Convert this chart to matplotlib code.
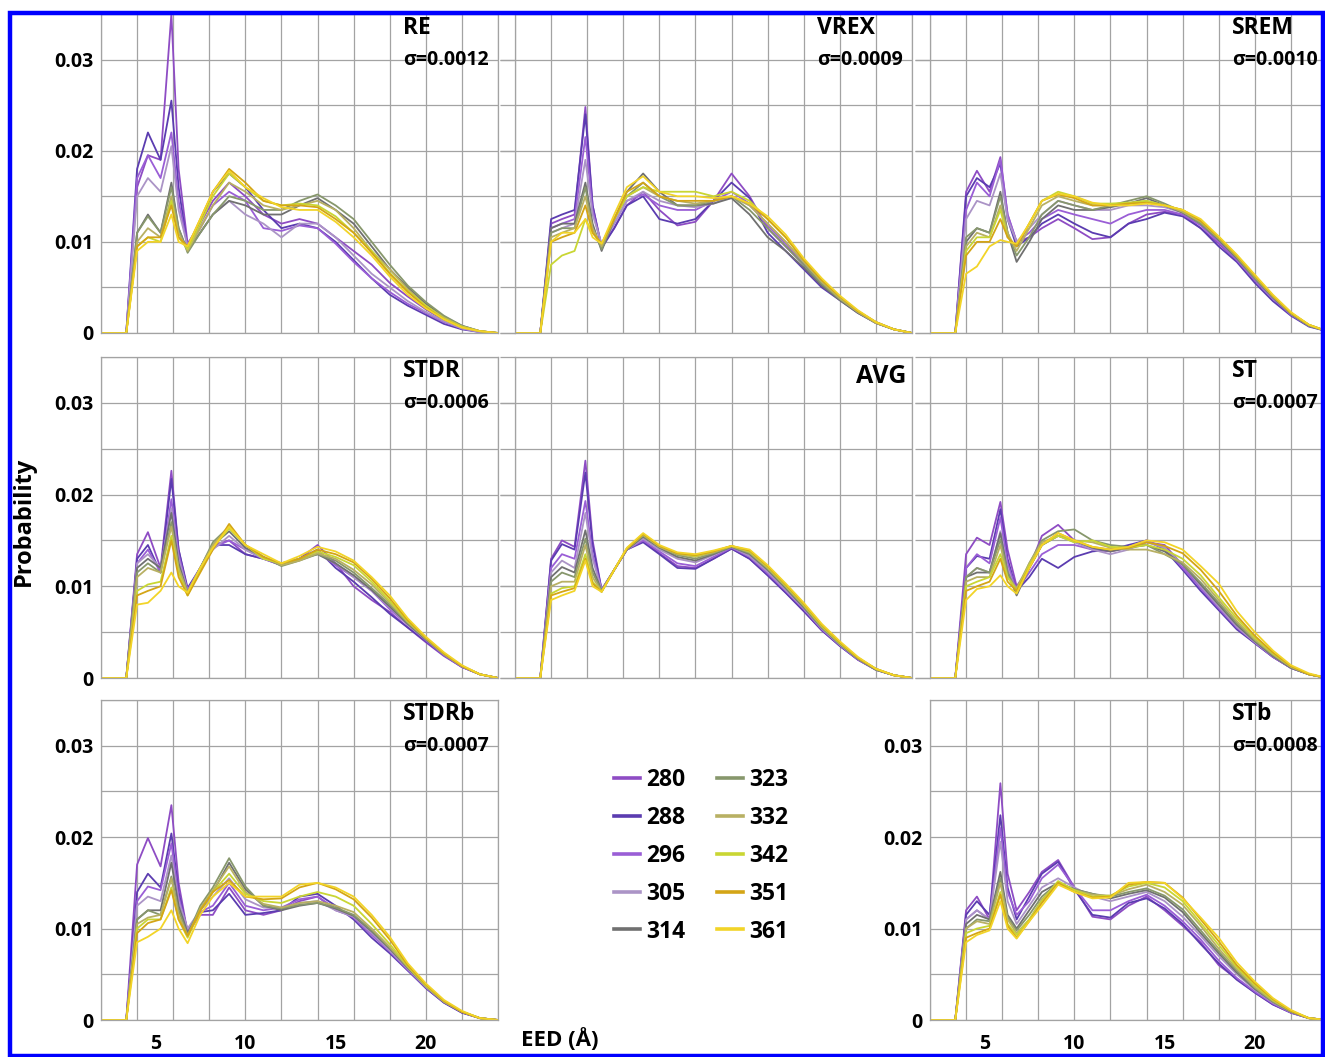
import numpy as np
import matplotlib.pyplot as plt
from matplotlib.patches import Rectangle
from matplotlib.lines import Line2D

plt.rcParams['font.family'] = ['Open Sans', 'DejaVu Sans']

temps = ['280', '288', '296', '305', '314', '323', '332', '342', '351', '361']
colors = ['#8e4cc4', '#5b3cb0', '#9a5ed6', '#ab94c6', '#707070',
          '#87976c', '#b8b063', '#c9d633', '#d4a516', '#f2d428']

# end-to-end distance grid (Angstrom)
eed = [2, 3.4, 4.0, 4.6, 5.3, 5.9, 6.3, 6.8, 7.5, 8.2, 9.1, 10, 11, 12, 13,
       14, 15, 16, 17, 18, 19, 20, 21, 22, 23, 24]

# probabilities in units of 1e-3, one row per temperature (280 ... 361)
re = [
    [0, 0, 16, 19.5, 19, 35, 18, 9.8, 12, 14.5, 16.5, 15, 13, 12, 12.5, 12, 10.5, 9, 7.5, 5.5, 4, 2.6, 1.4, 0.6, 0.2, 0],
    [0, 0, 18, 22, 19, 25.5, 16, 9.3, 12, 15.5, 17.5, 16, 13.5, 11.5, 12, 11.5, 10, 8, 6, 4.2, 3, 2, 1, 0.4, 0.1, 0],
    [0, 0, 17, 19.5, 17, 22, 14.5, 9.5, 11.5, 14, 15.5, 14.5, 11.5, 11.2, 11.8, 11.5, 9.8, 7.8, 6, 4.5, 3.2, 2.2, 1.2, 0.5, 0.1, 0],
    [0, 0, 15, 17, 15.5, 20.5, 13.5, 9.5, 11, 13, 14.5, 13, 12, 10.5, 12, 12, 10.5, 8.5, 6.5, 5, 3.5, 2.3, 1.3, 0.5, 0.1, 0],
    [0, 0, 11, 13, 11, 16.5, 11.5, 9, 11, 13, 14.5, 14, 13, 13, 14, 14.8, 13.5, 12, 9.5, 7, 5, 3.2, 1.8, 0.8, 0.2, 0],
    [0, 0, 11, 12.8, 11, 16, 11.5, 8.8, 11, 13, 15, 14.5, 13.5, 13.5, 14.5, 15.2, 14, 12.5, 10, 7.5, 5.2, 3.4, 1.9, 0.8, 0.2, 0],
    [0, 0, 10, 11.5, 10.5, 15, 11, 9, 11.5, 14, 16.5, 15.5, 14, 13.5, 14, 14.5, 13.5, 11.5, 9, 7, 4.8, 3, 1.7, 0.7, 0.2, 0],
    [0, 0, 9.5, 10.5, 10, 14.5, 10.5, 9.2, 12, 15, 17.5, 16, 14.5, 14, 14.2, 14, 12.8, 11, 9, 6.6, 4.6, 3, 1.6, 0.7, 0.2, 0],
    [0, 0, 9.5, 10.5, 10.5, 14, 10.5, 9.5, 12.5, 15.5, 18, 16.5, 14.5, 14, 14, 13.8, 12.5, 11, 8.8, 6.5, 4.5, 2.8, 1.5, 0.6, 0.2, 0],
    [0, 0, 9, 10, 10, 13, 10, 9.5, 12.5, 15.5, 17.8, 16, 14.8, 13.8, 13.5, 13.5, 12.2, 10.5, 8.5, 6.2, 4.2, 2.7, 1.5, 0.6, 0.2, 0],
]

vrex = [
    [0, 0, 12, 12.5, 13, 24.8, 14, 9.5, 11.5, 14, 15.5, 13.5, 11.8, 12.2, 14.5, 17.5, 15, 11.5, 9.5, 7.5, 5.5, 3.8, 2.4, 1.2, 0.4, 0],
    [0, 0, 12.5, 13, 13.5, 24, 14, 9.3, 11.5, 14, 15, 12.5, 12, 12.5, 14.5, 16.5, 14.8, 11, 9, 7, 5, 3.6, 2.2, 1.1, 0.4, 0],
    [0, 0, 11.5, 12, 12.5, 21.5, 13.5, 9.5, 12, 14.5, 15.2, 14, 13.5, 13.5, 14.5, 15.5, 14.2, 11.8, 9.8, 7.6, 5.4, 3.8, 2.3, 1.1, 0.4, 0],
    [0, 0, 11, 11.5, 12, 19, 13, 9.8, 12, 14.5, 15.5, 14.5, 14, 13.8, 14.2, 15, 14, 12, 10, 7.8, 5.5, 3.8, 2.3, 1.1, 0.4, 0],
    [0, 0, 11.5, 12, 12, 16.5, 12, 9, 12.5, 15.5, 17.5, 15.5, 14, 14, 14.2, 14.8, 13, 10.5, 9, 7.2, 5.2, 3.6, 2.2, 1.1, 0.4, 0],
    [0, 0, 11, 11.5, 11.5, 16, 11.5, 9.2, 12.5, 15, 16.5, 15, 14, 14, 14.5, 15, 13.5, 11.5, 9.5, 7.5, 5.4, 3.7, 2.3, 1.1, 0.4, 0],
    [0, 0, 10.5, 11, 11.5, 15, 11.5, 9.5, 12.5, 15, 16, 15, 14.5, 14.2, 14.5, 15, 14, 12, 10, 7.8, 5.6, 3.8, 2.3, 1.1, 0.4, 0],
    [0, 0, 7.5, 8.5, 9, 12.5, 11, 9.8, 12.5, 15, 16, 15.5, 15.5, 15.5, 15, 15.5, 14.5, 12.5, 10.5, 8, 5.8, 4, 2.4, 1.2, 0.4, 0],
    [0, 0, 10, 10.5, 11, 14, 11, 9.8, 12.5, 15.5, 16.5, 15, 14.5, 14.5, 14.5, 15, 14.2, 12.5, 10.5, 8, 5.8, 4, 2.4, 1.2, 0.4, 0],
    [0, 0, 10, 11, 11, 12.5, 10.5, 9.8, 13, 16, 17.2, 15.5, 15, 15, 14.8, 15, 14.2, 12.8, 10.8, 8.2, 6, 4.1, 2.5, 1.2, 0.4, 0],
]

srem = [
    [0, 0, 15.5, 17.8, 15.5, 19.3, 13, 10, 10.5, 11.5, 12.5, 11.5, 10.3, 10.5, 12, 13, 13.3, 13, 11.5, 9.8, 8, 5.8, 3.8, 2, 0.8, 0.2],
    [0, 0, 15, 17, 16, 18.6, 12.5, 9.5, 10.5, 12, 13, 12, 11, 10.5, 12, 12.5, 13.2, 12.8, 11.5, 9.5, 7.8, 5.5, 3.5, 1.9, 0.7, 0.2],
    [0, 0, 13.5, 16.5, 15, 19, 13, 10, 11, 12.5, 13.5, 13, 12.5, 12, 13, 13.5, 13.5, 13, 11.8, 10, 8, 5.8, 3.8, 2, 0.8, 0.2],
    [0, 0, 12.5, 14.5, 14, 17.5, 12.5, 10, 11.5, 13, 14.5, 14, 13.5, 13.5, 14, 14, 13.8, 13.2, 12, 10.2, 8.2, 6, 3.9, 2.1, 0.8, 0.2],
    [0, 0, 10, 11.5, 11, 15.5, 11, 7.8, 10, 12.5, 14, 13.5, 13.5, 13.8, 14.2, 14.8, 14, 13.2, 12, 10.2, 8.2, 6, 3.9, 2.1, 0.8, 0.2],
    [0, 0, 10.5, 11.5, 11, 15, 11, 8.5, 10.5, 13, 14.5, 14, 13.5, 14, 14.5, 15, 14.2, 13.3, 12, 10.3, 8.3, 6, 4, 2.1, 0.8, 0.2],
    [0, 0, 9.5, 11, 10.5, 14, 11, 9, 11.5, 14, 15, 14.5, 14, 14, 14.2, 14.5, 14, 13.3, 12.2, 10.4, 8.4, 6.2, 4, 2.2, 0.9, 0.2],
    [0, 0, 9, 10.5, 10.5, 13.5, 10.5, 9.5, 12, 14.5, 15.5, 15, 14.2, 14.2, 14.3, 14.5, 14, 13.5, 12.3, 10.5, 8.5, 6.3, 4.1, 2.2, 0.9, 0.2],
    [0, 0, 8.5, 10, 10, 12.5, 10.5, 9.5, 12, 14.5, 15.2, 14.8, 14, 14, 14.2, 14.3, 14, 13.5, 12.3, 10.5, 8.5, 6.3, 4.1, 2.2, 0.9, 0.2],
    [0, 0, 6.5, 7.3, 9.5, 10.2, 10, 9.8, 12, 14.5, 15.3, 15, 14.3, 14, 14, 14.2, 14, 13.5, 12.5, 10.6, 8.6, 6.4, 4.2, 2.3, 0.9, 0.2],
]

stdr = [
    [0, 0, 13.5, 15.9, 12, 22.6, 14, 9.5, 12, 14.5, 15, 13.5, 13, 12.5, 13, 14.5, 12.5, 10, 8.5, 7.2, 5.5, 3.9, 2.4, 1.2, 0.4, 0],
    [0, 0, 13, 14.5, 11.5, 21.7, 14, 9.8, 12, 14.5, 14.5, 13.5, 13, 12.3, 13, 14, 12, 10.5, 8.8, 7, 5.5, 4, 2.5, 1.2, 0.4, 0],
    [0, 0, 12.5, 14, 11.5, 19.5, 13.5, 9.5, 12, 14.2, 15, 14, 13, 12.3, 13, 13.8, 12.3, 11, 9.5, 7.5, 5.8, 4.1, 2.5, 1.2, 0.4, 0],
    [0, 0, 12.5, 13.5, 12, 18.5, 13, 9.5, 12, 14, 15.5, 14, 13, 12.5, 13, 13.5, 12.5, 11, 9.5, 7.7, 5.8, 4.2, 2.6, 1.3, 0.4, 0],
    [0, 0, 12, 13, 12, 18, 12.5, 9.3, 12, 14.5, 16, 14.2, 13.2, 12.3, 13, 13.5, 12.5, 11.2, 9.6, 7.8, 5.9, 4.2, 2.6, 1.3, 0.4, 0],
    [0, 0, 11.5, 12.5, 11.5, 17, 12, 9.2, 12, 14.8, 16.5, 14.5, 13.2, 12.2, 12.8, 13.5, 12.8, 11.5, 9.8, 8, 6, 4.3, 2.6, 1.3, 0.4, 0],
    [0, 0, 11, 12, 11.5, 16.5, 12, 9.3, 12, 14.5, 16.5, 14.5, 13.2, 12.3, 12.8, 13.6, 13, 11.8, 10.2, 8.2, 6.1, 4.3, 2.6, 1.3, 0.4, 0],
    [0, 0, 9.5, 10.2, 10.5, 15.5, 11.5, 9, 11.8, 14.2, 16.3, 14.5, 13, 12.5, 13, 13.8, 13.2, 12.3, 10.5, 8.4, 6.2, 4.4, 2.7, 1.3, 0.4, 0],
    [0, 0, 9, 9.5, 10, 15, 11, 9, 11.5, 14, 16.8, 14.5, 13.2, 12.5, 13, 14, 13.5, 12.6, 10.8, 8.7, 6.3, 4.4, 2.7, 1.3, 0.4, 0],
    [0, 0, 8, 8.2, 9.5, 11.5, 10, 9.3, 12, 14.2, 16.5, 14.5, 13.5, 12.5, 13.3, 14.3, 13.8, 12.8, 11, 9, 6.5, 4.5, 2.8, 1.4, 0.4, 0],
]

avg = [
    [0, 0, 13, 15, 14.3, 23.7, 15, 9.6, 11.8, 14, 15, 13.6, 12.2, 12, 13, 14.1, 13, 11.2, 9.3, 7.3, 5.2, 3.5, 2, 0.9, 0.3, 0],
    [0, 0, 12.8, 14.6, 14, 22.4, 14.5, 9.6, 11.8, 14, 14.8, 13.5, 12, 11.9, 13, 14.1, 13, 11.2, 9.3, 7.3, 5.2, 3.5, 2, 0.9, 0.3, 0],
    [0, 0, 12, 13.5, 13, 19.3, 13.5, 9.6, 11.8, 14, 15, 13.8, 12.5, 12.2, 13.2, 14.2, 13.2, 11.4, 9.5, 7.5, 5.3, 3.6, 2, 0.9, 0.3, 0],
    [0, 0, 11.5, 12.8, 12, 18, 13, 9.6, 11.8, 14, 15.2, 14, 13, 12.6, 13.4, 14.3, 13.3, 11.6, 9.6, 7.6, 5.4, 3.6, 2.1, 0.9, 0.3, 0],
    [0, 0, 11, 12.1, 11.5, 16.1, 12, 9.5, 11.8, 14, 15.4, 14.2, 13.2, 12.8, 13.5, 14.3, 13.5, 11.8, 9.8, 7.7, 5.5, 3.7, 2.1, 0.9, 0.3, 0],
    [0, 0, 10.5, 11.5, 11, 15.2, 11.5, 9.5, 11.8, 14.1, 15.5, 14.3, 13.4, 13, 13.6, 14.3, 13.6, 11.9, 9.9, 7.8, 5.5, 3.7, 2.1, 0.9, 0.3, 0],
    [0, 0, 10, 10.5, 10.5, 14.5, 11, 9.4, 11.8, 14.1, 15.6, 14.3, 13.5, 13.2, 13.7, 14.4, 13.7, 12, 10, 7.9, 5.6, 3.8, 2.2, 1, 0.3, 0],
    [0, 0, 9.2, 9.8, 10, 13.5, 10.5, 9.4, 11.8, 14.1, 15.7, 14.4, 13.6, 13.3, 13.8, 14.4, 13.8, 12.1, 10.1, 8, 5.7, 3.8, 2.2, 1, 0.3, 0],
    [0, 0, 9, 9.4, 9.8, 13, 10.3, 9.4, 11.8, 14.1, 15.7, 14.4, 13.6, 13.4, 13.8, 14.4, 13.9, 12.2, 10.2, 8.1, 5.8, 3.9, 2.2, 1, 0.3, 0],
    [0, 0, 8.5, 9, 9.5, 12.8, 10, 9.4, 11.8, 14.2, 15.8, 14.5, 13.7, 13.5, 13.9, 14.4, 14, 12.3, 10.3, 8.2, 5.9, 4, 2.3, 1, 0.3, 0],
]

st = [
    [0, 0, 13.5, 15.3, 14.5, 19.2, 14, 10, 12, 15.5, 16.7, 15, 14, 13.8, 14.2, 14.8, 14.5, 12.3, 9.8, 7.5, 5.5, 3.8, 2.3, 1.1, 0.4, 0],
    [0, 0, 12, 13.3, 13, 18.4, 13, 9.5, 11, 13, 12, 13.2, 13.8, 14, 14.5, 15, 14, 11.8, 9.5, 7.4, 5.3, 3.8, 2.3, 1.1, 0.4, 0],
    [0, 0, 12, 13.5, 12.5, 17.5, 12.5, 9.5, 11.5, 13.5, 14.5, 14.5, 14, 14, 14.3, 15, 14.2, 12, 9.8, 7.6, 5.5, 3.9, 2.3, 1.1, 0.4, 0],
    [0, 0, 11, 12, 11.5, 16, 12, 9.2, 12, 14.5, 15.5, 14.8, 14, 13.5, 14, 14.8, 14.2, 12.4, 10, 7.8, 5.6, 3.9, 2.4, 1.1, 0.4, 0],
    [0, 0, 11, 11.5, 11.5, 15.8, 11.5, 9, 12, 14.5, 15.5, 15, 14.2, 13.8, 14.2, 14.5, 13.8, 12.4, 10.2, 8, 5.8, 4, 2.4, 1.1, 0.4, 0],
    [0, 0, 11, 12, 11.5, 15.1, 11.5, 9.5, 12.5, 15, 16, 16.2, 15, 14.5, 14.3, 14.5, 13.5, 12.4, 10.4, 8.2, 6, 4.1, 2.5, 1.2, 0.4, 0],
    [0, 0, 10.5, 11, 11, 14.5, 11, 9.8, 12.5, 14.8, 15.5, 15, 14.8, 14.2, 14, 14, 13.5, 12.6, 10.8, 8.5, 6.2, 4.2, 2.6, 1.2, 0.4, 0],
    [0, 0, 10, 10.5, 11, 13.5, 11, 9.5, 12.3, 14.5, 15.5, 14.8, 15, 14.3, 14.2, 14.5, 14, 13, 11.2, 8.8, 6.5, 4.4, 2.7, 1.3, 0.4, 0],
    [0, 0, 9.5, 10, 10.5, 13, 10.5, 9.5, 12, 14.5, 15.8, 15, 14.3, 14, 14.2, 14.8, 14.4, 13.6, 11.8, 9.5, 6.8, 4.6, 2.8, 1.3, 0.4, 0],
    [0, 0, 8.5, 9.7, 10, 11.2, 10, 9.2, 12, 14.5, 15.8, 15, 14.3, 14, 14.3, 15, 14.8, 14, 12.2, 10.3, 7.3, 5, 3, 1.4, 0.5, 0],
]

stdrb = [
    [0, 0, 17, 19.9, 16.8, 23.5, 15, 9.5, 11.5, 11.5, 14.5, 12, 11.5, 12, 13, 13.5, 12, 11.3, 9.5, 7.5, 5.5, 3.5, 1.9, 0.8, 0.2, 0],
    [0, 0, 14, 16, 14.5, 20.4, 14, 9.5, 11.8, 12, 13.8, 11.5, 11.7, 12, 13.5, 13.8, 12.5, 11, 9, 7.3, 5.4, 3.5, 1.9, 0.8, 0.2, 0],
    [0, 0, 13, 14.6, 14.2, 19.3, 13.5, 9.8, 11.8, 12.5, 15, 12.5, 12, 12.3, 13.2, 13.5, 12.2, 11.2, 9.3, 7.5, 5.5, 3.6, 2, 0.9, 0.2, 0],
    [0, 0, 12.5, 13.5, 13, 18, 13, 10, 12, 13.5, 15.5, 13.2, 12.3, 12.2, 12.8, 13, 12, 11.3, 9.5, 7.6, 5.6, 3.6, 2, 0.9, 0.2, 0],
    [0, 0, 11, 12, 12, 17.2, 12.5, 9.5, 12, 14, 17.2, 14.3, 12.5, 12, 12.5, 12.8, 12.2, 11.4, 9.7, 7.8, 5.7, 3.7, 2, 0.9, 0.2, 0],
    [0, 0, 11, 12, 11.5, 15.7, 12, 9.3, 12.5, 14.5, 17.7, 14.6, 12.5, 12.2, 12.6, 12.8, 12.3, 11.5, 9.8, 7.9, 5.8, 3.7, 2, 0.9, 0.2, 0],
    [0, 0, 10.5, 11.2, 11.5, 15.5, 11.5, 9.2, 12.2, 14.2, 16.8, 14, 12.7, 12.3, 12.8, 13, 12.5, 11.8, 10, 8, 5.8, 3.7, 2, 0.9, 0.2, 0],
    [0, 0, 10, 11, 11, 14.5, 11, 9, 12, 14, 16, 13.8, 13, 12.8, 13.5, 14, 13.5, 12.5, 10.5, 8.3, 5.9, 3.8, 2.1, 0.9, 0.2, 0],
    [0, 0, 9.5, 10.6, 11, 14.2, 11, 9.2, 12, 14, 15.3, 13.5, 13.2, 13.3, 14.5, 15, 14.3, 13.2, 11.2, 8.8, 6, 3.9, 2.1, 0.9, 0.2, 0],
    [0, 0, 8.5, 9.1, 10, 12, 10, 8.4, 11.5, 13.5, 15, 13.5, 13.5, 13.5, 14.8, 15, 14.5, 13.5, 11.5, 9.1, 6.2, 4, 2.2, 1, 0.2, 0],
]

stb = [
    [0, 0, 12, 13.5, 11, 25.9, 16, 12, 14, 16.2, 17.5, 14.5, 11.3, 11, 12.5, 13.5, 12, 10.3, 8.5, 6, 4.5, 3, 1.7, 0.8, 0.2, 0],
    [0, 0, 11.5, 13, 11.5, 22.4, 14.5, 11, 13.5, 16, 17.3, 14.3, 11.5, 11.2, 12.8, 13.3, 12.2, 10.5, 8.3, 6.2, 4.4, 3, 1.7, 0.8, 0.2, 0],
    [0, 0, 11, 12, 11, 21, 14, 11.5, 13, 15.5, 17, 14.5, 12, 12, 13, 13.7, 12.5, 10.8, 8.8, 6.5, 4.6, 3.1, 1.8, 0.8, 0.2, 0],
    [0, 0, 11, 12, 11, 19.5, 13, 10.5, 12.5, 14.5, 15.5, 14.5, 13.5, 13, 13.5, 14, 13, 11.3, 9.2, 7, 5, 3.3, 1.9, 0.9, 0.2, 0],
    [0, 0, 10.5, 11.5, 11, 16.2, 11.5, 10, 12, 14, 15, 14.3, 13.8, 13.3, 13.8, 14.2, 13.4, 11.8, 9.5, 7.3, 5.2, 3.4, 2, 0.9, 0.2, 0],
    [0, 0, 10, 11, 10.8, 15.5, 11.2, 9.8, 11.5, 13.5, 15, 14.3, 13.8, 13.5, 14, 14.4, 13.6, 12.1, 9.8, 7.5, 5.4, 3.5, 2, 0.9, 0.2, 0],
    [0, 0, 10, 10.8, 10.5, 15, 11, 9.5, 11, 13.2, 15, 14.2, 13.7, 13.6, 14.3, 14.8, 14, 12.6, 10.3, 7.8, 5.6, 3.6, 2.1, 1, 0.2, 0],
    [0, 0, 9.5, 10, 10.3, 14, 10.5, 9.3, 11, 13, 15.2, 14.2, 13.5, 13.6, 14.6, 15, 14.5, 13, 10.6, 8.2, 5.8, 3.8, 2.2, 1, 0.2, 0],
    [0, 0, 9, 9.5, 10, 13.7, 10.3, 9, 10.8, 12.8, 15, 14, 13.4, 13.5, 14.8, 15.1, 15, 13.4, 11, 8.6, 6, 4, 2.3, 1, 0.2, 0],
    [0, 0, 8.5, 9.3, 9.8, 13, 10, 8.9, 10.8, 12.5, 14.8, 14, 13.3, 13.4, 15, 15.1, 15, 13.3, 11.2, 9, 6.3, 4.2, 2.4, 1.1, 0.2, 0],
]

# (name, sigma, data, row, col)
panels = [
    ('RE', '0.0012', re, 0, 0),
    ('VREX', '0.0009', vrex, 0, 1),
    ('SREM', '0.0010', srem, 0, 2),
    ('STDR', '0.0006', stdr, 1, 0),
    ('AVG', None, avg, 1, 1),
    ('ST', '0.0007', st, 1, 2),
    ('STDRb', '0.0007', stdrb, 2, 0),
    ('STb', '0.0008', stb, 2, 2),
]

W, H = 1325, 1057
fig = plt.figure(figsize=(W / 100, H / 100), dpi=100)

col_left = [101, 515, 930]
row_span = [(14, 333), (357, 678), (700, 1020)]
ax_w = 397
grid_c = '#a3a3a3'

for name, sig, data, r, c in panels:
    top, bot = row_span[r]
    ax = fig.add_axes([col_left[c] / W, 1 - bot / H, ax_w / W, (bot - top) / H])
    for vals, col in zip(data, colors):
        ax.plot(eed, np.array(vals) / 1000, color=col, lw=1.3, solid_joinstyle='round')
    ax.set_xlim(2, 24)
    ax.set_ylim(0, 0.035)

    ax.xaxis.remove_overlapping_locs = False
    ax.yaxis.remove_overlapping_locs = False
    ax.set_xticks(np.arange(2, 25, 2), minor=True)
    ax.set_yticks(np.arange(0, 0.0351, 0.005), minor=True)
    ax.grid(which='minor', color=grid_c, lw=0.9)
    ax.grid(which='major', visible=False)
    ax.set_axisbelow(True)
    for sp in ax.spines.values():
        sp.set_color(grid_c)
        sp.set_linewidth(0.9)

    ax.set_xticks([5, 10, 15, 20])
    ax.set_yticks([0, 0.01, 0.02, 0.03])
    ax.tick_params(which='both', length=0)
    ax.tick_params(axis='y', pad=5.5, labelsize=14)
    ax.tick_params(axis='x', pad=10, labelsize=14)

    if r == 2:
        ax.set_xticklabels(['5', '10', '15', '20'], fontweight='bold')
    else:
        ax.set_xticklabels([])
    if c == 0 or (r == 2 and c == 2):
        ax.set_yticklabels(['0', '0.01', '0.02', '0.03'], fontweight='bold')
    else:
        ax.set_yticklabels([])
        ax.tick_params(axis='y', which='both', length=11, color=grid_c, width=0.9)

    if sig is None:
        ax.text(0.985, 0.938, name, transform=ax.transAxes, ha='right', va='center',
                fontsize=18, fontweight='bold')
    else:
        ax.text(0.76, 0.955, name, transform=ax.transAxes, ha='left', va='center',
                fontsize=16.5, fontweight='bold')
        ax.text(0.76, 0.856, '\u03c3=' + sig, transform=ax.transAxes, ha='left',
                va='center', fontsize=14, fontweight='bold')

# legend in the empty lower-middle slot
handles = [Line2D([], [], color=col, lw=2.6) for col in colors]
fig.legend(handles, temps, ncol=2, loc='center', bbox_to_anchor=(701 / W, 1 - 856 / H),
           frameon=False, prop={'size': 16.5, 'weight': 'bold'}, handlelength=1.15,
           handletextpad=0.25, columnspacing=1.4, labelspacing=0.6)

fig.text(24 / W, 1 - 521 / H, 'Probability', rotation=90, ha='center', va='center',
         fontsize=17, fontweight='bold')
fig.text(521 / W, 1 - 1051 / H, 'EED (\u00c5)', ha='left', va='bottom',
         fontsize=16, fontweight='bold')

fig.patches.append(Rectangle((10.5 / W, 1 - 1056 / H), (1323 - 10.5) / W, (1056 - 12.5) / H,
                             transform=fig.transFigure, fill=False, ec='#0000ff', lw=3.2,
                             zorder=10))

fig.savefig('out.png', dpi=100)
